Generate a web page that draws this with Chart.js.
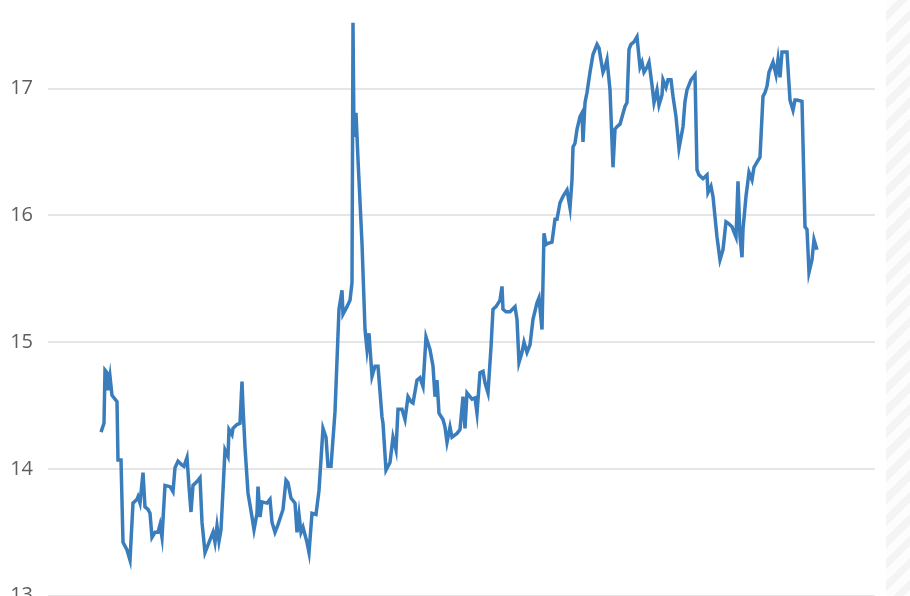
<!DOCTYPE html>
<html>
<head>
<meta charset="utf-8">
<script src="https://cdn.jsdelivr.net/npm/chart.js@4.4.1/dist/chart.umd.min.js"></script>
<style>
  html, body { margin: 0; padding: 0; background: #fff; overflow: hidden; }
  #wrap { position: relative; width: 910px; height: 596px; overflow: hidden; }
  #chartBox { position: absolute; left: 0; top: 0; width: 910px; height: 659px; }
  #hatch {
    position: absolute; left: 886px; top: 0; width: 24px; height: 596px;
    background: repeating-linear-gradient(135deg, #fdfdfd 0px, #fdfdfd 8px, #f4f4f4 8px, #f4f4f4 15.5px);
  }
</style>
</head>
<body>
<div id="wrap">
  <div id="chartBox"><canvas id="priceChart"></canvas></div>
  <div id="hatch"></div>
</div>
<script>
// trading day offsets and closing prices
const days = [
  0, 3, 4, 6, 7, 9, 11, 16, 17, 20, 22, 26, 29, 32, 36, 37, 39, 42, 44, 47,
  49, 51, 54, 57, 59, 61, 62, 64, 69, 72, 74, 77, 81, 83, 86, 88, 90, 92, 96, 99,
  101, 104, 109, 112, 114, 116, 118, 120, 122, 124, 127, 128, 131, 132, 136, 139, 141, 142, 144, 147,
  151, 153, 156, 157, 159, 161, 166, 169, 171, 174, 177, 182, 185, 187, 190, 194, 196, 198, 200, 202,
  206, 208, 211, 215, 218, 222, 225, 227, 230, 234, 238, 241, 242, 246, 249, 251, 252, 253, 255, 257,
  261, 264, 266, 268, 271, 274, 277, 281, 282, 285, 289, 292, 295, 297, 301, 304, 307, 310, 312, 316,
  319, 322, 325, 329, 332, 334, 336, 338, 342, 344, 346, 349, 351, 356, 359, 362, 364, 366, 371, 374,
  376, 379, 382, 384, 387, 390, 392, 395, 399, 401, 402, 405, 409, 414, 416, 418, 421, 423, 426, 429,
  432, 436, 438, 441, 443, 445, 447, 451, 454, 456, 459, 462, 466, 469, 471, 472, 474, 476, 479, 481,
  482, 484, 486, 489, 492, 496, 498, 502, 504, 506, 509, 512, 514, 516, 519, 524, 526, 528, 530, 533,
  536, 539, 541, 543, 546, 548, 551, 553, 556, 558, 561, 562, 565, 567, 570, 572, 575, 578, 582, 584,
  586, 590, 594, 596, 598, 602, 606, 607, 610, 612, 614, 616, 619, 622, 625, 627, 631, 635, 637, 639,
  641, 642, 645, 648, 651, 653, 656, 659, 662, 664, 666, 668, 672, 675, 677, 679, 681, 682, 686, 689,
  692, 694, 696, 701, 704, 706, 708, 711, 713, 716, 718
];
const closes = [
  14.29, 14.36, 14.78, 14.76, 14.62, 14.73, 14.58, 14.53, 14.07, 14.07, 13.42, 13.36, 13.28, 13.73, 13.76, 13.78, 13.73, 13.97, 13.70, 13.68,
  13.65, 13.46, 13.50, 13.50, 13.56, 13.46, 13.60, 13.87, 13.86, 13.82, 14.01, 14.06, 14.03, 14.02, 14.09, 13.86, 13.66, 13.87, 13.90, 13.93,
  13.58, 13.34, 13.44, 13.50, 13.42, 13.55, 13.43, 13.52, 13.83, 14.15, 14.10, 14.31, 14.27, 14.32, 14.35, 14.36, 14.69, 14.49, 14.17, 13.81,
  13.62, 13.52, 13.65, 13.86, 13.62, 13.74, 13.73, 13.76, 13.58, 13.50, 13.56, 13.68, 13.91, 13.89, 13.77, 13.73, 13.50, 13.64, 13.50, 13.54,
  13.42, 13.34, 13.65, 13.64, 13.83, 14.32, 14.25, 14.02, 14.02, 14.45, 15.26, 15.41, 15.22, 15.28, 15.33, 15.47, 17.52, 16.62, 16.81, 16.44,
  15.78, 15.10, 14.94, 15.07, 14.73, 14.81, 14.81, 14.41, 14.36, 13.99, 14.05, 14.25, 14.15, 14.47, 14.47, 14.39, 14.57, 14.53, 14.52, 14.70,
  14.72, 14.65, 15.04, 14.94, 14.81, 14.57, 14.70, 14.44, 14.39, 14.33, 14.21, 14.33, 14.25, 14.28, 14.31, 14.57, 14.32, 14.60, 14.55, 14.56,
  14.44, 14.76, 14.77, 14.68, 14.60, 14.96, 15.26, 15.28, 15.33, 15.44, 15.26, 15.24, 15.24, 15.28, 15.18, 14.84, 14.92, 15.00, 14.92, 14.98,
  15.18, 15.31, 15.35, 15.10, 15.86, 15.77, 15.78, 15.79, 15.97, 15.97, 16.10, 16.15, 16.20, 16.06, 16.28, 16.54, 16.57, 16.68, 16.78, 16.81,
  16.58, 16.89, 16.97, 17.13, 17.27, 17.35, 17.32, 17.13, 17.17, 17.23, 16.99, 16.38, 16.68, 16.70, 16.72, 16.86, 16.89, 17.31, 17.35, 17.37,
  17.41, 17.17, 17.21, 17.13, 17.17, 17.21, 17.03, 16.89, 16.99, 16.87, 16.95, 17.07, 17.01, 17.07, 17.07, 16.94, 16.78, 16.53, 16.70, 16.90,
  16.99, 17.07, 17.11, 16.36, 16.32, 16.29, 16.32, 16.18, 16.23, 16.15, 15.99, 15.83, 15.65, 15.73, 15.95, 15.94, 15.91, 15.83, 16.27, 15.83,
  15.67, 15.89, 16.15, 16.34, 16.28, 16.38, 16.42, 16.46, 16.94, 16.97, 17.02, 17.13, 17.21, 17.11, 17.23, 17.09, 17.29, 17.29, 17.29, 16.91,
  16.83, 16.91, 16.91, 16.90, 15.91, 15.89, 15.55, 15.65, 15.81, 15.73
];
const yTicks = [13, 14, 15, 16, 17];

const points = days.map((d, i) => ({ x: d, y: closes[i] }));

new Chart(document.getElementById('priceChart').getContext('2d'), {
  type: 'line',
  data: {
    datasets: [{
      data: points,
      borderColor: '#3a7dbd',
      borderWidth: 3.5,
      pointRadius: 0,
      tension: 0,
      fill: false,
    }],
  },
  options: {
    responsive: true,
    maintainAspectRatio: false,
    animation: false,
    layout: { padding: { left: 10, right: 35, top: 0, bottom: 0 } },
    plugins: { legend: { display: false }, tooltip: { enabled: false } },
    scales: {
      x: {
        type: 'linear',
        display: false,
        min: -53,
        max: 774,
      },
      y: {
        min: 12.5,
        max: 17.7,
        afterBuildTicks: (scale) => { scale.ticks = yTicks.map((v) => ({ value: v })); },
        afterFit: (scale) => {
          // the picture is cropped, so no room is kept for half labels at the ends
          scale.width = 38;
          scale.paddingTop = 0;
          scale.paddingBottom = 0;
        },
        border: { display: false },
        grid: { color: '#e6e6e6', lineWidth: 2, drawTicks: false },
        ticks: {
          padding: 15,
          color: '#5e5e5e',
          font: { family: '"Open Sans"', size: 20 },
        },
      },
    },
  },
});
</script>
</body>
</html>
